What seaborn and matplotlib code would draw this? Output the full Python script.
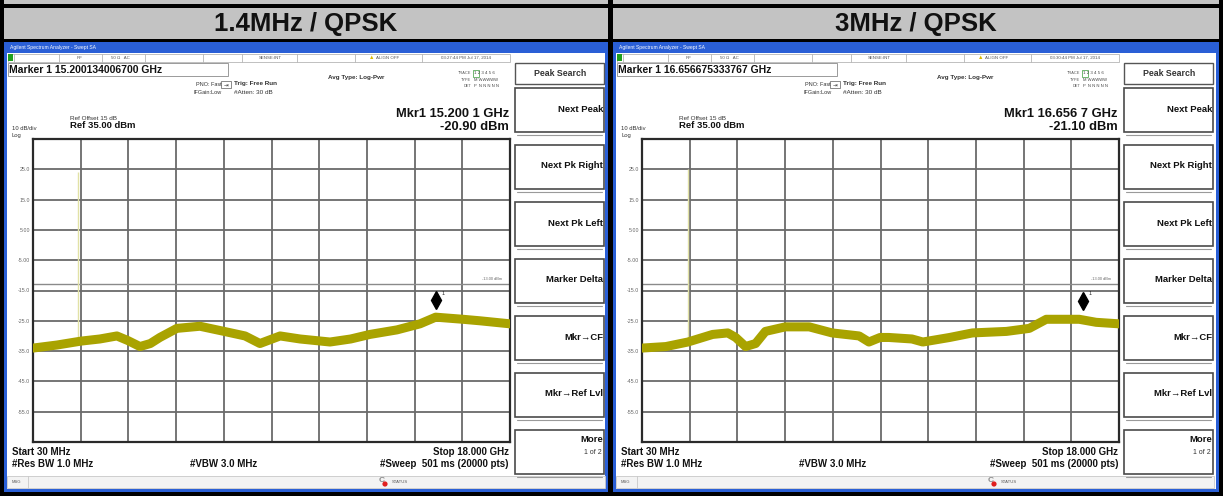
import numpy as np
import pandas as pd
import matplotlib
matplotlib.use('Agg')
import matplotlib.pyplot as plt
import matplotlib.patches as mpatches
import matplotlib.transforms as mtransforms
import seaborn as sns

sns.set_theme(style='white')
plt.rcParams['font.family'] = ['Liberation Sans', 'DejaVu Sans']

W, H = 1223, 496

# ---------------- data ----------------
panel_titles = ['1.4MHz / QPSK', '3MHz / QPSK']
marker_readouts = ['15.200134006700 GHz', '16.656675333767 GHz']
mkr_freq_labels = ['15.200 1 GHz', '16.656 7 GHz']
mkr_level_labels = ['-20.90 dBm', '-21.10 dBm']
clock_labels = ['03:27:44 PM Jul 17, 2014', '03:30:44 PM Jul 17, 2014']
marker_freqs = [15.2001, 16.6567]
marker_levels = [-20.90, -21.10]
spike_freqs = [1.73, 1.76]
spike_tops = [24.0, 25.0]
spike_bottoms = [-31.5, -32.0]

trace1_freq = [0.03, 0.93, 1.84, 2.55, 3.19, 3.60, 4.06, 4.45, 4.81, 5.45, 6.32,
               7.23, 8.02, 8.58, 9.34, 10.09, 11.22, 12.00, 12.72, 13.74, 14.61,
               15.20, 16.23, 16.87, 18.00]
trace1_level = [-34.0, -33.0, -31.7, -31.0, -30.0, -31.5, -33.5, -32.5, -30.5, -27.5, -26.8,
                -28.5, -30.0, -32.5, -30.0, -31.0, -32.0, -31.0, -29.5, -28.0, -26.0,
                -23.8, -24.5, -25.0, -26.0]
trace2_freq = [0.03, 0.93, 1.76, 2.69, 3.26, 3.56, 3.93, 4.31, 4.68, 5.43, 6.33,
               7.19, 8.21, 8.58, 9.00, 9.33, 10.20, 10.61, 11.62, 12.48, 13.76,
               14.62, 15.26, 16.50, 17.14, 18.00]
trace2_level = [-34.0, -33.5, -32.0, -29.5, -29.0, -30.5, -33.5, -32.5, -28.5, -27.0, -27.0,
                -29.0, -30.0, -32.0, -30.5, -30.5, -31.0, -32.0, -30.5, -29.0, -28.5,
                -27.5, -24.5, -24.5, -25.5, -26.0]
traces = [(trace1_freq, trace1_level), (trace2_freq, trace2_level)]

ytick_values = [25, 15, 5, -5, -15, -25, -35, -45, -55]
ytick_labels = ['25.0', '15.0', '5.00', '-5.00', '-15.0', '-25.0', '-35.0', '-45.0', '-55.0']
display_line = -13.0
display_line_label = '-13.00 dBm'
softkeys = ['Next Peak', 'Next Pk Right', 'Next Pk Left', 'Marker Delta',
            'Mkr\u2192CF', 'Mkr\u2192Ref Lvl']

# ---------------- figure ----------------
fig = plt.figure(figsize=(W / 100, H / 100), dpi=100)
bg = fig.add_axes([0, 0, 1, 1], zorder=0)
bg.set_xlim(0, W)
bg.set_ylim(H, 0)
bg.axis('off')


def rect(x0, y0, x1, y1, fc='none', ec='none', lw=0.0, z=1):
    bg.add_patch(mpatches.Rectangle((x0, y0), x1 - x0, y1 - y0, fc=fc, ec=ec, lw=lw, zorder=z))


def txt(x, y, s, size=5, weight='normal', ha='left', color='#111111', z=5):
    bg.text(x, y, s, fontsize=size, fontweight=weight, ha=ha, va='center', color=color, zorder=z)


# table background / borders
rect(0, 0, W, H, fc='black', z=0)
GRAY = '#c3c3c3'
BLUE = '#2a5fd6'
cols = [(4, 608), (613, 1219)]
for (cx0, cx1), title in zip(cols, panel_titles):
    rect(cx0, 0, cx1, 4, fc=GRAY)
    rect(cx0, 8, cx1, 39, fc=GRAY)
    txt((cx0 + cx1) / 2, 23.5, title, size=18.5, weight='bold', ha='center', color='#111111')
    # window frame
    rect(cx0, 42, cx1, 492, fc=BLUE)
    rect(cx0 + 3, 53, cx1 - 3, 489, fc='white')
    txt(cx0 + 6, 47.5, 'Agilent Spectrum Analyzer - Swept SA', size=3.6, color='white')

for p in range(2):
    off = 0 if p == 0 else 609
    X = lambda x: x + off

    # toolbar row
    rect(X(8), 54, X(510), 62, fc='white', ec='#b5b5b5', lw=0.6)
    for dx in [14, 59, 102, 145, 203, 242, 297, 355, 422]:
        bg.plot([X(dx), X(dx)], [54, 62], color='#b5b5b5', lw=0.6, zorder=2)
    rect(X(8), 54, X(13), 61, fc='#1fa01f', z=3)
    txt(X(80), 58, 'RF', size=3.2, color='#555555', ha='center')
    txt(X(120), 58, '50 \u03a9   AC', size=3.2, color='#555555', ha='center')
    txt(X(270), 58, 'SENSE:INT', size=3.2, color='#555555', ha='center')
    txt(X(372), 57.5, '\u25b2', size=4, color='#d8b800', ha='center')
    txt(X(388), 58, 'ALIGN OFF', size=3.2, color='#555555', ha='center')
    txt(X(466), 58, clock_labels[p], size=3.2, color='#555555', ha='center')

    # marker readout box
    rect(X(8), 63, X(228), 76, fc='white', ec='#9a9a9a', lw=0.7)
    txt(X(9), 70, 'Marker 1 ' + marker_readouts[p], size=7.5, weight='bold')

    txt(X(328), 77, 'Avg Type: Log-Pwr', size=4.5, weight='bold', color='#333333')
    txt(X(471), 73, 'TRACE', size=2.8, ha='right', color='#555555')
    rect(X(473), 69.5, X(479), 76.5, ec='#3a9a3a', lw=0.5)
    txt(X(474), 73, '1 2 3 4 5 6', size=3.2, color='#444444')
    txt(X(471), 80, 'TYPE', size=2.8, ha='right', color='#555555')
    txt(X(474), 80, 'M WWWWW', size=3.0, color='#444444')
    txt(X(471), 86, 'DET', size=2.8, ha='right', color='#555555')
    txt(X(474), 86, 'P  N N N N N', size=3.0, color='#444444')

    txt(X(196), 84, 'PNO: Fast', size=4, color='#333333')
    rect(X(221), 81, X(231), 88, fc='white', ec='#777777', lw=0.6)
    txt(X(226), 84.5, '\u21e5', size=4, ha='center', color='#333333')
    txt(X(194), 92, 'IFGain:Low', size=4, color='#333333')
    txt(X(234), 84, 'Trig: Free Run', size=4.6, weight='bold', color='#333333')
    txt(X(234), 92, '#Atten: 30 dB', size=4.6, color='#333333')

    txt(X(70), 118, 'Ref Offset 15 dB', size=4.6, color='#333333')
    txt(X(70), 125.5, 'Ref 35.00 dBm', size=6.8, weight='bold')
    txt(X(12), 129, '10 dB/div', size=4.2, color='#333333')
    txt(X(12), 135, 'Log', size=4.2, color='#333333')

    txt(X(509), 114, 'Mkr1 ' + mkr_freq_labels[p], size=9.3, weight='bold', ha='right')
    txt(X(509), 126.5, mkr_level_labels[p], size=9.3, weight='bold', ha='right')

    txt(X(12), 452, 'Start 30 MHz', size=7, weight='bold')
    txt(X(509), 452, 'Stop 18.000 GHz', size=7, weight='bold', ha='right')
    txt(X(12), 464, '#Res BW 1.0 MHz', size=7, weight='bold')
    txt(X(190), 464, '#VBW 3.0 MHz', size=7, weight='bold')
    txt(X(509), 464, '#Sweep  501 ms (20000 pts)', size=7, weight='bold', ha='right')

    # status bar
    rect(X(7), 476, X(605), 488, fc='#f3f3f3', ec='#c8c8c8', lw=0.6)
    bg.plot([X(28), X(28)], [476, 488], color='#c8c8c8', lw=0.6, zorder=2)
    txt(X(12), 482, 'MSG', size=3, color='#555555')
    txt(X(382), 481, 'C', size=6, weight='bold', color='#888888', ha='center')
    bg.add_patch(mpatches.Circle((X(385), 484), 2.6, fc='#e02020', ec='none', zorder=6))
    txt(X(392), 482, 'STATUS', size=3, color='#555555')

    # softkeys
    rect(X(515), 63, X(604), 84, fc='white', ec='#555555', lw=1.0)
    txt(X(560), 73, 'Peak Search', size=6.3, weight='bold', ha='center', color='#333333')
    for i, key in enumerate(softkeys + ['More']):
        top = 88 + i * 57
        rect(X(515), top, X(604), top + 44, fc='white', ec='#4a4a4a', lw=1.2)
        bg.plot([X(517), X(602)], [top + 47, top + 47], color='#9a9a9a', lw=0.8, zorder=2)
        if key == 'More':
            txt(X(603), top + 9, 'More', size=6.8, weight='bold', ha='right')
            txt(X(602), top + 23, '1 of 2', size=5, ha='right', color='#333333')
        else:
            txt(X(603), top + 21, key, size=6.8, weight='bold', ha='right')

    # ---------------- spectrum plot ----------------
    px0, px1, py0, py1 = X(33), X(510), 139, 442
    ax = fig.add_axes([px0 / W, 1 - py1 / H, (px1 - px0) / W, (py1 - py0) / H], zorder=3)
    ax.set_facecolor('white')
    ax.set_xlim(0.03, 18.0)
    ax.set_ylim(-65, 35)
    ax.set_xticks(np.linspace(0.03, 18.0, 11)[1:-1])
    ax.set_xticklabels([])
    ax.set_yticks(ytick_values)
    ax.set_yticklabels(ytick_labels)
    ax.tick_params(axis='both', length=0, pad=2)
    ax.tick_params(axis='y', labelsize=3.8, labelcolor='#666666')
    ax.grid(True, color='#6a6a6a', lw=1.3)
    for s in ax.spines.values():
        s.set_color('#2a2a2a')
        s.set_linewidth(1.6)

    # display line
    ax.axhline(display_line, color='#8a8a8a', lw=1.0, zorder=2)
    ax.text(17.7, display_line + 1.0, display_line_label, fontsize=2.8, color='#666666',
            ha='right', va='bottom')

    # fundamental spike
    ax.vlines(spike_freqs[p], spike_bottoms[p], spike_tops[p], color='#e2e2a6', lw=1.0, zorder=3)

    f, lv = traces[p]
    df = pd.DataFrame({'freq': f, 'level': lv})
    sns.lineplot(data=df, x='freq', y='level', ax=ax, color='#a9a300', lw=6.5,
                 sort=False, estimator=None, zorder=4)
    ax.set_xlabel('')
    ax.set_ylabel('')

    # marker 1
    mtr = mtransforms.offset_copy(ax.transData, fig=fig, x=0, y=6, units='points')
    ax.plot([marker_freqs[p]], [marker_levels[p]], marker='d', color='black', ms=9,
            transform=mtr, zorder=6)
    mtr2 = mtransforms.offset_copy(ax.transData, fig=fig, x=4, y=11, units='points')
    ax.text(marker_freqs[p], marker_levels[p], '1', fontsize=4, transform=mtr2,
            ha='left', va='center', zorder=6)

fig.savefig('out.png', dpi=100)
